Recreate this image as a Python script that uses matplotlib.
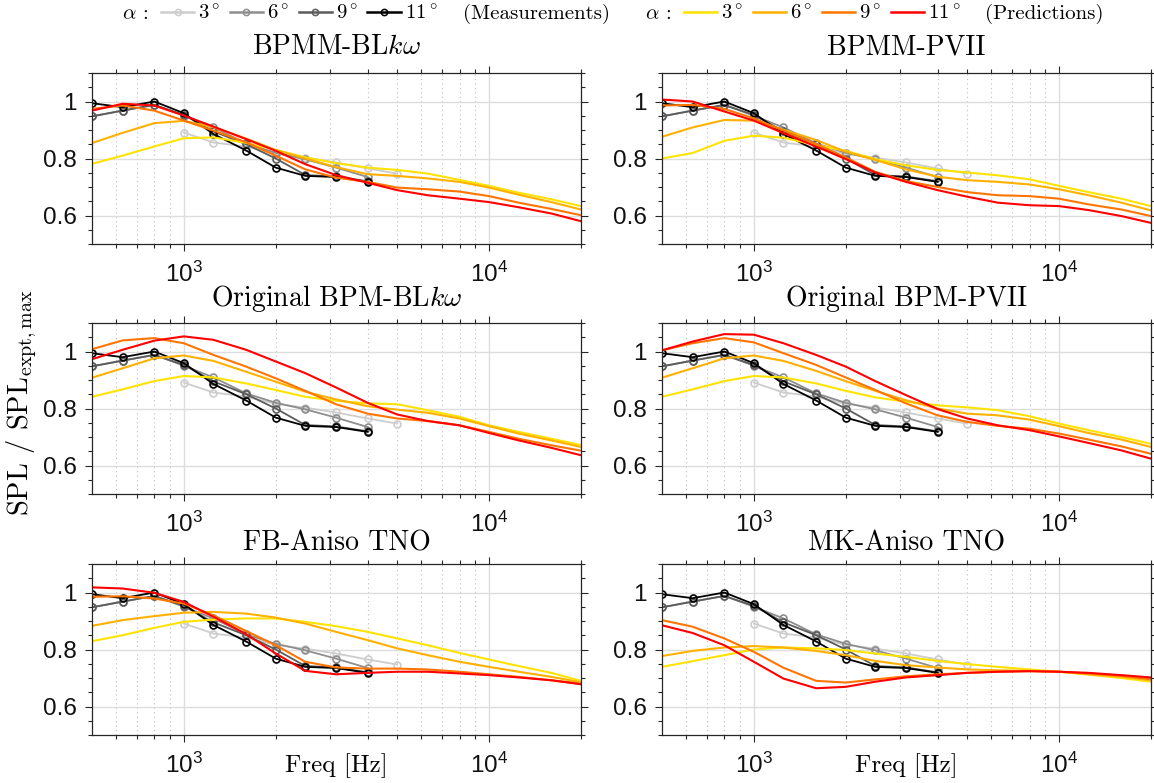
import numpy as np
import matplotlib
matplotlib.use('Agg')
import matplotlib.pyplot as plt
from matplotlib.ticker import FixedLocator, FuncFormatter, MultipleLocator
from matplotlib.lines import Line2D

plt.rcParams.update({
    'font.family': 'cmr10',
    'mathtext.fontset': 'custom',
    'mathtext.rm': 'Liberation Sans',
    'mathtext.it': 'Liberation Sans:italic',
    'mathtext.bf': 'Liberation Sans:bold',
    'axes.unicode_minus': False,
    'axes.formatter.use_mathtext': True,
})

# ---------------- data ----------------
freq_meas = [500, 630, 800, 1000, 1250, 1600, 2000, 2500, 3150, 4000]
freq_meas3 = [1000, 1250, 1600, 2000, 2500, 3150, 4000, 5000]
meas_3 = [0.891, 0.856, 0.842, 0.816, 0.803, 0.786, 0.765, 0.747]
meas_6 = [0.948, 0.968, 0.988, 0.950, 0.909, 0.853, 0.820, 0.797, 0.768, 0.735]
meas_9 = [0.948, 0.968, 0.988, 0.953, 0.895, 0.850, 0.800, 0.742, 0.737, 0.720]
meas_11 = [0.994, 0.980, 1.000, 0.959, 0.886, 0.828, 0.768, 0.739, 0.735, 0.718]

freq_pred = [500, 630, 800, 1000, 1250, 1600, 2000, 2500, 3150, 4000, 5000,
             6300, 8000, 10000, 12500, 16000, 20000]

bl_3 = [0.781, 0.81, 0.842, 0.871, 0.874, 0.855, 0.83, 0.804, 0.784, 0.768, 0.76, 0.747, 0.725, 0.704, 0.68, 0.657, 0.633]
bl_6 = [0.854, 0.89, 0.924, 0.932, 0.91, 0.87, 0.83, 0.80, 0.77, 0.745, 0.739, 0.73, 0.718, 0.698, 0.673, 0.647, 0.621]
bl_9 = [0.974, 0.986, 0.968, 0.933, 0.898, 0.857, 0.81, 0.762, 0.733, 0.718, 0.698, 0.692, 0.684, 0.668, 0.645, 0.623, 0.601]
bl_11 = [0.968, 0.992, 0.986, 0.951, 0.912, 0.868, 0.827, 0.78, 0.742, 0.715, 0.689, 0.671, 0.659, 0.647, 0.629, 0.607, 0.58]

pv_3 = [0.80, 0.819, 0.862, 0.88, 0.873, 0.847, 0.827, 0.798, 0.776, 0.76, 0.751, 0.741, 0.727, 0.704, 0.682, 0.659, 0.633]
pv_6 = [0.876, 0.909, 0.935, 0.933, 0.901, 0.865, 0.824, 0.795, 0.762, 0.736, 0.724, 0.718, 0.709, 0.692, 0.671, 0.645, 0.618]
pv_9 = [0.986, 0.988, 0.974, 0.941, 0.898, 0.851, 0.804, 0.753, 0.721, 0.70, 0.682, 0.671, 0.668, 0.659, 0.639, 0.621, 0.598]
pv_11 = [1.007, 1.0, 0.965, 0.933, 0.889, 0.842, 0.798, 0.751, 0.718, 0.689, 0.666, 0.645, 0.636, 0.633, 0.619, 0.598, 0.574]

obl_3 = [0.841, 0.867, 0.896, 0.914, 0.909, 0.888, 0.865, 0.841, 0.827, 0.818, 0.815, 0.794, 0.771, 0.741, 0.718, 0.694, 0.672]
obl_6 = [0.908, 0.941, 0.976, 0.986, 0.967, 0.929, 0.894, 0.859, 0.832, 0.808, 0.796, 0.785, 0.765, 0.738, 0.712, 0.688, 0.665]
obl_9 = [1.008, 1.039, 1.047, 1.029, 0.988, 0.947, 0.906, 0.862, 0.815, 0.782, 0.765, 0.756, 0.741, 0.718, 0.694, 0.671, 0.652]
obl_11 = [0.973, 1.006, 1.038, 1.053, 1.041, 1.006, 0.965, 0.924, 0.874, 0.82, 0.779, 0.756, 0.741, 0.714, 0.688, 0.662, 0.636]

opv_3 = [0.841, 0.867, 0.896, 0.914, 0.909, 0.888, 0.862, 0.839, 0.824, 0.811, 0.804, 0.794, 0.773, 0.747, 0.724, 0.70, 0.676]
opv_6 = [0.908, 0.941, 0.976, 0.986, 0.967, 0.932, 0.896, 0.862, 0.829, 0.80, 0.782, 0.776, 0.761, 0.738, 0.714, 0.691, 0.665]
opv_9 = [1.004, 1.029, 1.047, 1.032, 0.994, 0.953, 0.909, 0.865, 0.818, 0.776, 0.753, 0.739, 0.729, 0.712, 0.691, 0.667, 0.641]
opv_11 = [1.004, 1.035, 1.061, 1.059, 1.029, 0.988, 0.947, 0.896, 0.847, 0.798, 0.765, 0.741, 0.724, 0.702, 0.679, 0.653, 0.624]

fb_3 = [0.829, 0.85, 0.876, 0.897, 0.905, 0.909, 0.909, 0.897, 0.882, 0.862, 0.839, 0.815, 0.788, 0.765, 0.742, 0.718, 0.69]
fb_6 = [0.883, 0.903, 0.917, 0.929, 0.932, 0.926, 0.912, 0.891, 0.862, 0.833, 0.804, 0.78, 0.757, 0.739, 0.722, 0.704, 0.685]
fb_9 = [0.985, 0.987, 0.979, 0.961, 0.92, 0.865, 0.815, 0.757, 0.737, 0.733, 0.733, 0.73, 0.722, 0.713, 0.704, 0.692, 0.68]
fb_11 = [1.018, 1.014, 0.999, 0.967, 0.915, 0.854, 0.786, 0.725, 0.713, 0.718, 0.722, 0.722, 0.716, 0.71, 0.702, 0.692, 0.678]

mk_3 = [0.739, 0.759, 0.78, 0.80, 0.807, 0.804, 0.798, 0.786, 0.774, 0.76, 0.749, 0.739, 0.73, 0.722, 0.712, 0.70, 0.687]
mk_6 = [0.777, 0.795, 0.807, 0.812, 0.807, 0.795, 0.78, 0.76, 0.745, 0.737, 0.73, 0.727, 0.725, 0.722, 0.713, 0.704, 0.692]
mk_9 = [0.903, 0.88, 0.839, 0.792, 0.736, 0.69, 0.684, 0.695, 0.706, 0.713, 0.718, 0.722, 0.724, 0.722, 0.716, 0.708, 0.696]
mk_11 = [0.885, 0.858, 0.815, 0.757, 0.698, 0.664, 0.669, 0.687, 0.702, 0.71, 0.718, 0.722, 0.724, 0.722, 0.718, 0.71, 0.702]

titles = [r'BPMM-BL$k\omega$', 'BPMM-PVII',
          r'Original BPM-BL$k\omega$', 'Original BPM-PVII',
          'FB-Aniso TNO', 'MK-Aniso TNO']
preds = [(bl_3, bl_6, bl_9, bl_11), (pv_3, pv_6, pv_9, pv_11),
         (obl_3, obl_6, obl_9, obl_11), (opv_3, opv_6, opv_9, opv_11),
         (fb_3, fb_6, fb_9, fb_11), (mk_3, mk_6, mk_9, mk_11)]
angle_labels = [r'$3^\circ$', r'$6^\circ$', r'$9^\circ$', r'$11^\circ$']

meas_colors = ['#cdcdcd', '#8e8e8e', '#5c5c5c', '#000000']
pred_colors = [(1.0, 0.89, 0.0), (1.0, 0.69, 0.0), (1.0, 0.46, 0.0), (1.0, 0.0, 0.0)]

# ---------------- figure ----------------
W, H = 1154, 783
fig = plt.figure(figsize=(W / 100, H / 100), dpi=100)

lefts = [92 / W, 662 / W]
width = 489 / W
bottoms = [1 - 244 / H, 1 - 494 / H, 1 - 735 / H]
height = 171 / H
title_pads = [13.5, 12.5, 10]

minor_x = [600, 700, 800, 900, 2000, 3000, 4000, 5000, 6000, 7000, 8000, 9000, 20000]

axes = []
for i in range(6):
    r, c = divmod(i, 2)
    ax = fig.add_axes([lefts[c], bottoms[r], width, height])
    axes.append(ax)
    ax.set_xscale('log')
    ax.set_xlim(500, 20000)
    ax.set_ylim(0.5, 1.1)

    ms_kw = dict(marker='o', ms=5, mfc='none', mew=1.2, lw=1.3)
    ax.plot(freq_meas3, meas_3, color=meas_colors[0], **ms_kw)
    ax.plot(freq_meas, meas_6, color=meas_colors[1], **ms_kw)
    ax.plot(freq_meas, meas_9, color=meas_colors[2], **ms_kw)
    ax.plot(freq_meas, meas_11, color=meas_colors[3], **ms_kw)
    for vals, col in zip(preds[i], pred_colors):
        ax.plot(freq_pred, vals, color=col, lw=1.5)

    ax.xaxis.set_major_locator(FixedLocator([1e3, 1e4]))
    ax.xaxis.set_minor_locator(FixedLocator(minor_x))
    ax.xaxis.set_major_formatter(FuncFormatter(
        lambda v, p: r'$10^{%d}$' % int(round(np.log10(v)))))
    ax.xaxis.set_minor_formatter(FuncFormatter(lambda v, p: ''))
    ax.yaxis.set_major_locator(FixedLocator([0.6, 0.8, 1.0]))
    ax.yaxis.set_minor_locator(MultipleLocator(0.05))
    ax.yaxis.set_major_formatter(FuncFormatter(
        lambda v, p: '1' if abs(v - 1) < 1e-9 else '%.1f' % v))

    ax.grid(True, which='major', color='#dddddd', lw=1.0, ls='-')
    ax.xaxis.grid(True, which='minor', color='#bdbdbd', lw=0.8, ls=(0, (1, 3)))
    ax.set_axisbelow(True)

    ax.tick_params(which='both', direction='out', top=True, right=True,
                   color='#262626', width=0.8)
    ax.tick_params(which='major', length=5, labelsize=17.5,
                   labelfontfamily='Liberation Sans', labelcolor='#111111')
    ax.tick_params(axis='x', which='major', pad=8)
    ax.tick_params(axis='y', which='major', pad=6)
    ax.tick_params(which='minor', length=2.8)
    for s in ax.spines.values():
        s.set_color('#262626')
        s.set_linewidth(0.9)

    ax.set_title(titles[i], fontsize=20, pad=title_pads[r], math_fontfamily='cm')

    if r == 2:
        ax.text(0.5, -0.215, 'Freq [Hz]', transform=ax.transAxes,
                ha='center', va='baseline', fontsize=18)

fig.text(22 / W, 1 - 403 / H, r'SPL / SPL$_{\rm expt,max}$', rotation=90,
         ha='center', va='center', fontsize=20.5, math_fontfamily='cm')

# ---------------- legends ----------------
leg_y = 1 - 14 / H
meas_handles = [Line2D([], [], color=c, marker='o', ms=4.5, mfc='none', mew=1.1, lw=1.8)
                for c in meas_colors]
pred_handles = [Line2D([], [], color=c, lw=1.8) for c in pred_colors]
leg_kw = dict(loc='center left', ncol=4, frameon=False, fontsize=15,
              handlelength=1.6, handletextpad=0.18, columnspacing=0.45,
              borderpad=0, borderaxespad=0)
leg1 = fig.legend(meas_handles, angle_labels, bbox_to_anchor=(0.2, leg_y), **leg_kw)
leg2 = fig.legend(pred_handles, angle_labels, bbox_to_anchor=(0.6, leg_y), **leg_kw)
for lg in (leg1, leg2):
    for t in lg.get_texts():
        t.set_math_fontfamily('cm')

a1 = fig.text(0.1, leg_y, r'$\alpha$ :', ha='left', va='center', fontsize=15,
              math_fontfamily='cm')
p1 = fig.text(0.4, leg_y, '(Measurements)', ha='left', va='center', fontsize=15)
a2 = fig.text(0.6, leg_y, r'$\alpha$ :', ha='left', va='center', fontsize=15,
              math_fontfamily='cm')
p2 = fig.text(0.9, leg_y, '(Predictions)', ha='left', va='center', fontsize=15)

fig.canvas.draw()
rend = fig.canvas.get_renderer()


def place_group(leg, ltxt, rtxt, center_px, gap1, gap2):
    lb = leg.get_window_extent(rend)
    tl = ltxt.get_window_extent(rend)
    tr = rtxt.get_window_extent(rend)
    total = tl.width + gap1 + lb.width + gap2 + tr.width
    x0 = center_px - total / 2
    ltxt.set_x(x0 / W)
    leg.set_bbox_to_anchor(((x0 + tl.width + gap1) / W, leg_y), transform=fig.transFigure)
    rtxt.set_x((x0 + tl.width + gap1 + lb.width + gap2) / W)


place_group(leg1, a1, p1, 366, 13, 26)
place_group(leg2, a2, p2, 874, 13, 24)

fig.savefig('out.png', dpi=100)
